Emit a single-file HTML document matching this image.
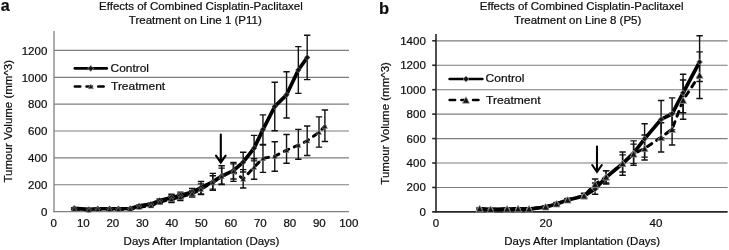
<!DOCTYPE html>
<html><head><meta charset="utf-8"><title>chart</title>
<style>
html,body{margin:0;padding:0;background:#fff;}
body{width:729px;height:250px;overflow:hidden;}
svg{display:block;will-change:transform;font-family:"Liberation Sans",sans-serif;fill:#0d0d0d;}
text{stroke:#111;stroke-width:0.22px;}
</style></head><body>
<svg width="729" height="250" viewBox="0 0 729 250">
<rect x="0" y="0" width="729" height="250" fill="#fff"/>
<line x1="54" y1="184.78" x2="349" y2="184.78" stroke="#7c7c7c" stroke-width="1.15"/>
<line x1="54" y1="157.91" x2="349" y2="157.91" stroke="#7c7c7c" stroke-width="1.15"/>
<line x1="54" y1="131.04" x2="349" y2="131.04" stroke="#7c7c7c" stroke-width="1.15"/>
<line x1="54" y1="104.17" x2="349" y2="104.17" stroke="#7c7c7c" stroke-width="1.15"/>
<line x1="54" y1="77.30" x2="349" y2="77.30" stroke="#7c7c7c" stroke-width="1.15"/>
<line x1="54" y1="50.43" x2="349" y2="50.43" stroke="#7c7c7c" stroke-width="1.15"/>
<line x1="53.4" y1="211.65" x2="349" y2="211.65" stroke="#808080" stroke-width="1.3"/>
<line x1="54" y1="31" x2="54" y2="212.25" stroke="#808080" stroke-width="1.3"/>
<path d="M74.15 207.67V209.02M70.95 207.67H77.35M70.95 209.02H77.35" stroke="#111" stroke-width="1.4" fill="none"/>
<path d="M88.90 208.75V210.09M85.70 208.75H92.10M85.70 210.09H92.10" stroke="#111" stroke-width="1.4" fill="none"/>
<path d="M97.75 208.08V209.42M94.55 208.08H100.95M94.55 209.42H100.95" stroke="#111" stroke-width="1.4" fill="none"/>
<path d="M109.55 208.08V209.42M106.35 208.08H112.75M106.35 209.42H112.75" stroke="#111" stroke-width="1.4" fill="none"/>
<path d="M118.40 208.08V209.42M115.20 208.08H121.60M115.20 209.42H121.60" stroke="#111" stroke-width="1.4" fill="none"/>
<path d="M130.20 207.81V209.15M127.00 207.81H133.40M127.00 209.15H133.40" stroke="#111" stroke-width="1.4" fill="none"/>
<path d="M139.05 205.12V206.73M135.85 205.12H142.25M135.85 206.73H142.25" stroke="#111" stroke-width="1.4" fill="none"/>
<path d="M150.85 203.10V205.25M147.65 203.10H154.05M147.65 205.25H154.05" stroke="#111" stroke-width="1.4" fill="none"/>
<path d="M159.70 198.94V202.16M156.50 198.94H162.90M156.50 202.16H162.90" stroke="#111" stroke-width="1.4" fill="none"/>
<path d="M171.50 194.24V200.96M168.30 194.24H174.70M168.30 200.96H174.70" stroke="#111" stroke-width="1.4" fill="none"/>
<path d="M180.35 192.09V198.81M177.15 192.09H183.55M177.15 198.81H183.55" stroke="#111" stroke-width="1.4" fill="none"/>
<path d="M192.15 188.33V195.45M188.95 188.33H195.35M188.95 195.45H195.35" stroke="#111" stroke-width="1.4" fill="none"/>
<path d="M201.00 181.47V193.83M197.80 181.47H204.20M197.80 193.83H204.20" stroke="#111" stroke-width="1.4" fill="none"/>
<path d="M212.80 173.41V190.34M209.60 173.41H216.00M209.60 190.34H216.00" stroke="#111" stroke-width="1.4" fill="none"/>
<path d="M221.65 165.76V184.56M218.45 165.76H224.85M218.45 184.56H224.85" stroke="#111" stroke-width="1.4" fill="none"/>
<path d="M233.45 162.53V179.06M230.25 162.53H236.65M230.25 179.06H236.65" stroke="#111" stroke-width="1.4" fill="none"/>
<path d="M243.19 152.32V171.94M239.99 152.32H246.38M239.99 171.94H246.38" stroke="#111" stroke-width="1.4" fill="none"/>
<path d="M254.10 135.39V160.92M250.90 135.39H257.30M250.90 160.92H257.30" stroke="#111" stroke-width="1.4" fill="none"/>
<path d="M262.95 114.84V144.39M259.75 114.84H266.15M259.75 144.39H266.15" stroke="#111" stroke-width="1.4" fill="none"/>
<path d="M274.75 82.32V130.69M271.55 82.32H277.95M271.55 130.69H277.95" stroke="#111" stroke-width="1.4" fill="none"/>
<path d="M286.55 71.71V117.93M283.35 71.71H289.75M283.35 117.93H289.75" stroke="#111" stroke-width="1.4" fill="none"/>
<path d="M298.35 46.59V93.34M295.15 46.59H301.55M295.15 93.34H301.55" stroke="#111" stroke-width="1.4" fill="none"/>
<path d="M307.20 35.30V79.64M304.00 35.30H310.40M304.00 79.64H310.40" stroke="#111" stroke-width="1.4" fill="none"/>
<path d="M74.15 208.34V209.69M70.95 208.34H77.35M70.95 209.69H77.35" stroke="#111" stroke-width="1.4" fill="none"/>
<path d="M88.90 209.28V210.63M85.70 209.28H92.10M85.70 210.63H92.10" stroke="#111" stroke-width="1.4" fill="none"/>
<path d="M97.75 208.61V209.96M94.55 208.61H100.95M94.55 209.96H100.95" stroke="#111" stroke-width="1.4" fill="none"/>
<path d="M109.55 208.61V209.96M106.35 208.61H112.75M106.35 209.96H112.75" stroke="#111" stroke-width="1.4" fill="none"/>
<path d="M118.40 208.61V209.96M115.20 208.61H121.60M115.20 209.96H121.60" stroke="#111" stroke-width="1.4" fill="none"/>
<path d="M130.20 208.34V209.69M127.00 208.34H133.40M127.00 209.69H133.40" stroke="#111" stroke-width="1.4" fill="none"/>
<path d="M139.05 206.33V207.94M135.85 206.33H142.25M135.85 207.94H142.25" stroke="#111" stroke-width="1.4" fill="none"/>
<path d="M150.85 204.72V206.87M147.65 204.72H154.05M147.65 206.87H154.05" stroke="#111" stroke-width="1.4" fill="none"/>
<path d="M159.70 200.55V203.78M156.50 200.55H162.90M156.50 203.78H162.90" stroke="#111" stroke-width="1.4" fill="none"/>
<path d="M171.50 195.85V202.57M168.30 195.85H174.70M168.30 202.57H174.70" stroke="#111" stroke-width="1.4" fill="none"/>
<path d="M180.35 193.83V200.55M177.15 193.83H183.55M177.15 200.55H183.55" stroke="#111" stroke-width="1.4" fill="none"/>
<path d="M192.15 190.34V197.06M188.95 190.34H195.35M188.95 197.06H195.35" stroke="#111" stroke-width="1.4" fill="none"/>
<path d="M201.00 183.89V194.64M197.80 183.89H204.20M197.80 194.64H204.20" stroke="#111" stroke-width="1.4" fill="none"/>
<path d="M212.80 175.70V189.13M209.60 175.70H216.00M209.60 189.13H216.00" stroke="#111" stroke-width="1.4" fill="none"/>
<path d="M221.65 168.17V184.16M218.45 168.17H224.85M218.45 184.16H224.85" stroke="#111" stroke-width="1.4" fill="none"/>
<path d="M233.45 163.87V181.34M230.25 163.87H236.65M230.25 181.34H236.65" stroke="#111" stroke-width="1.4" fill="none"/>
<path d="M243.19 169.65V188.06M239.99 169.65H246.38M239.99 188.06H246.38" stroke="#111" stroke-width="1.4" fill="none"/>
<path d="M254.10 158.77V179.32M250.90 158.77H257.30M250.90 179.32H257.30" stroke="#111" stroke-width="1.4" fill="none"/>
<path d="M262.95 144.93V172.34M259.75 144.93H266.15M259.75 172.34H266.15" stroke="#111" stroke-width="1.4" fill="none"/>
<path d="M274.75 141.71V171.26M271.55 141.71H277.95M271.55 171.26H277.95" stroke="#111" stroke-width="1.4" fill="none"/>
<path d="M286.55 134.45V163.20M283.35 134.45H289.75M283.35 163.20H289.75" stroke="#111" stroke-width="1.4" fill="none"/>
<path d="M298.35 129.35V159.31M295.15 129.35H301.55M295.15 159.31H301.55" stroke="#111" stroke-width="1.4" fill="none"/>
<path d="M307.20 125.99V155.54M304.00 125.99H310.40M304.00 155.54H310.40" stroke="#111" stroke-width="1.4" fill="none"/>
<path d="M319.00 116.85V147.08M315.80 116.85H322.20M315.80 147.08H322.20" stroke="#111" stroke-width="1.4" fill="none"/>
<path d="M324.90 110.00V141.57M321.70 110.00H328.10M321.70 141.57H328.10" stroke="#111" stroke-width="1.4" fill="none"/>
<polyline points="74.15,209.02 88.90,209.96 97.75,209.28 109.55,209.28 118.40,209.28 130.20,209.02 139.05,207.14 150.85,205.79 159.70,202.16 171.50,199.21 180.35,197.19 192.15,193.70 201.00,189.27 212.80,182.41 221.65,176.37 233.45,171.26 243.19,179.06 254.10,167.10 262.95,158.37 274.75,156.22 286.55,150.17 298.35,145.20 307.20,140.77 319.00,132.30 324.90,126.12" fill="none" stroke="#000" stroke-width="2.95" stroke-dasharray="5.0 6.0" stroke-linecap="round" stroke-linejoin="round"/>
<polyline points="74.15,208.34 88.90,209.42 97.75,208.75 109.55,208.75 118.40,208.75 130.20,208.48 139.05,205.93 150.85,204.18 159.70,200.55 171.50,197.60 180.35,195.45 192.15,192.09 201.00,187.65 212.80,181.88 221.65,176.10 233.45,170.59 243.19,162.13 254.10,148.16 262.95,129.62 274.75,106.51 286.55,94.82 298.35,69.96 307.20,57.47" fill="none" stroke="#000" stroke-width="3.7" stroke-linejoin="round" stroke-linecap="round"/>
<path d="M74.15 205.34L77.05 208.34L74.15 211.34L71.25 208.34Z" fill="#141414" stroke="#a0a0a0" stroke-width="0.45"/>
<path d="M88.90 206.42L91.80 209.42L88.90 212.42L86.00 209.42Z" fill="#141414" stroke="#a0a0a0" stroke-width="0.45"/>
<path d="M97.75 205.75L100.65 208.75L97.75 211.75L94.85 208.75Z" fill="#141414" stroke="#a0a0a0" stroke-width="0.45"/>
<path d="M109.55 205.75L112.45 208.75L109.55 211.75L106.65 208.75Z" fill="#141414" stroke="#a0a0a0" stroke-width="0.45"/>
<path d="M118.40 205.75L121.30 208.75L118.40 211.75L115.50 208.75Z" fill="#141414" stroke="#a0a0a0" stroke-width="0.45"/>
<path d="M130.20 205.48L133.10 208.48L130.20 211.48L127.30 208.48Z" fill="#141414" stroke="#a0a0a0" stroke-width="0.45"/>
<path d="M139.05 202.93L141.95 205.93L139.05 208.93L136.15 205.93Z" fill="#141414" stroke="#a0a0a0" stroke-width="0.45"/>
<path d="M150.85 201.18L153.75 204.18L150.85 207.18L147.95 204.18Z" fill="#141414" stroke="#a0a0a0" stroke-width="0.45"/>
<path d="M159.70 197.55L162.60 200.55L159.70 203.55L156.80 200.55Z" fill="#141414" stroke="#a0a0a0" stroke-width="0.45"/>
<path d="M171.50 194.60L174.40 197.60L171.50 200.60L168.60 197.60Z" fill="#141414" stroke="#a0a0a0" stroke-width="0.45"/>
<path d="M180.35 192.45L183.25 195.45L180.35 198.45L177.45 195.45Z" fill="#141414" stroke="#a0a0a0" stroke-width="0.45"/>
<path d="M192.15 189.09L195.05 192.09L192.15 195.09L189.25 192.09Z" fill="#141414" stroke="#a0a0a0" stroke-width="0.45"/>
<path d="M201.00 184.65L203.90 187.65L201.00 190.65L198.10 187.65Z" fill="#141414" stroke="#a0a0a0" stroke-width="0.45"/>
<path d="M212.80 178.88L215.70 181.88L212.80 184.88L209.90 181.88Z" fill="#141414" stroke="#a0a0a0" stroke-width="0.45"/>
<path d="M221.65 173.10L224.55 176.10L221.65 179.10L218.75 176.10Z" fill="#141414" stroke="#a0a0a0" stroke-width="0.45"/>
<path d="M233.45 167.59L236.35 170.59L233.45 173.59L230.55 170.59Z" fill="#141414" stroke="#a0a0a0" stroke-width="0.45"/>
<path d="M243.19 159.13L246.09 162.13L243.19 165.13L240.28 162.13Z" fill="#141414" stroke="#a0a0a0" stroke-width="0.45"/>
<path d="M254.10 145.16L257.00 148.16L254.10 151.16L251.20 148.16Z" fill="#141414" stroke="#a0a0a0" stroke-width="0.45"/>
<path d="M262.95 126.62L265.85 129.62L262.95 132.62L260.05 129.62Z" fill="#141414" stroke="#a0a0a0" stroke-width="0.45"/>
<path d="M274.75 103.51L277.65 106.51L274.75 109.51L271.85 106.51Z" fill="#141414" stroke="#a0a0a0" stroke-width="0.45"/>
<path d="M286.55 91.82L289.45 94.82L286.55 97.82L283.65 94.82Z" fill="#141414" stroke="#a0a0a0" stroke-width="0.45"/>
<path d="M298.35 66.96L301.25 69.96L298.35 72.96L295.45 69.96Z" fill="#141414" stroke="#a0a0a0" stroke-width="0.45"/>
<path d="M307.20 54.47L310.10 57.47L307.20 60.47L304.30 57.47Z" fill="#141414" stroke="#a0a0a0" stroke-width="0.45"/>
<path d="M74.15 206.72L76.85 211.32H71.45Z" fill="#141414" stroke="#a0a0a0" stroke-width="0.45"/>
<path d="M88.90 207.66L91.60 212.26H86.20Z" fill="#141414" stroke="#a0a0a0" stroke-width="0.45"/>
<path d="M97.75 206.98L100.45 211.58H95.05Z" fill="#141414" stroke="#a0a0a0" stroke-width="0.45"/>
<path d="M109.55 206.98L112.25 211.58H106.85Z" fill="#141414" stroke="#a0a0a0" stroke-width="0.45"/>
<path d="M118.40 206.98L121.10 211.58H115.70Z" fill="#141414" stroke="#a0a0a0" stroke-width="0.45"/>
<path d="M130.20 206.72L132.90 211.32H127.50Z" fill="#141414" stroke="#a0a0a0" stroke-width="0.45"/>
<path d="M139.05 204.84L141.75 209.44H136.35Z" fill="#141414" stroke="#a0a0a0" stroke-width="0.45"/>
<path d="M150.85 203.49L153.55 208.09H148.15Z" fill="#141414" stroke="#a0a0a0" stroke-width="0.45"/>
<path d="M159.70 199.86L162.40 204.46H157.00Z" fill="#141414" stroke="#a0a0a0" stroke-width="0.45"/>
<path d="M171.50 196.91L174.20 201.51H168.80Z" fill="#141414" stroke="#a0a0a0" stroke-width="0.45"/>
<path d="M180.35 194.89L183.05 199.49H177.65Z" fill="#141414" stroke="#a0a0a0" stroke-width="0.45"/>
<path d="M192.15 191.40L194.85 196.00H189.45Z" fill="#141414" stroke="#a0a0a0" stroke-width="0.45"/>
<path d="M201.00 186.97L203.70 191.57H198.30Z" fill="#141414" stroke="#a0a0a0" stroke-width="0.45"/>
<path d="M212.80 180.11L215.50 184.71H210.10Z" fill="#141414" stroke="#a0a0a0" stroke-width="0.45"/>
<path d="M221.65 174.07L224.35 178.67H218.95Z" fill="#141414" stroke="#a0a0a0" stroke-width="0.45"/>
<path d="M233.45 168.96L236.15 173.56H230.75Z" fill="#141414" stroke="#a0a0a0" stroke-width="0.45"/>
<path d="M243.19 176.76L245.88 181.36H240.49Z" fill="#141414" stroke="#a0a0a0" stroke-width="0.45"/>
<path d="M254.10 164.80L256.80 169.40H251.40Z" fill="#141414" stroke="#a0a0a0" stroke-width="0.45"/>
<path d="M262.95 156.07L265.65 160.67H260.25Z" fill="#141414" stroke="#a0a0a0" stroke-width="0.45"/>
<path d="M274.75 153.92L277.45 158.52H272.05Z" fill="#141414" stroke="#a0a0a0" stroke-width="0.45"/>
<path d="M286.55 147.87L289.25 152.47H283.85Z" fill="#141414" stroke="#a0a0a0" stroke-width="0.45"/>
<path d="M298.35 142.90L301.05 147.50H295.65Z" fill="#141414" stroke="#a0a0a0" stroke-width="0.45"/>
<path d="M307.20 138.47L309.90 143.07H304.50Z" fill="#141414" stroke="#a0a0a0" stroke-width="0.45"/>
<path d="M319.00 130.00L321.70 134.60H316.30Z" fill="#141414" stroke="#a0a0a0" stroke-width="0.45"/>
<path d="M324.90 123.82L327.60 128.42H322.20Z" fill="#141414" stroke="#a0a0a0" stroke-width="0.45"/>
<line x1="436" y1="187.46" x2="727.6" y2="187.46" stroke="#7c7c7c" stroke-width="1.15"/>
<line x1="436" y1="163.02" x2="727.6" y2="163.02" stroke="#7c7c7c" stroke-width="1.15"/>
<line x1="436" y1="138.58" x2="727.6" y2="138.58" stroke="#7c7c7c" stroke-width="1.15"/>
<line x1="436" y1="114.14" x2="727.6" y2="114.14" stroke="#7c7c7c" stroke-width="1.15"/>
<line x1="436" y1="89.70" x2="727.6" y2="89.70" stroke="#7c7c7c" stroke-width="1.15"/>
<line x1="436" y1="65.26" x2="727.6" y2="65.26" stroke="#7c7c7c" stroke-width="1.15"/>
<line x1="436" y1="40.82" x2="727.6" y2="40.82" stroke="#7c7c7c" stroke-width="1.15"/>
<line x1="432.2" y1="211.9" x2="727.6" y2="211.9" stroke="#262626" stroke-width="1.6"/>
<line x1="436" y1="34" x2="436" y2="212.5" stroke="#262626" stroke-width="1.6"/>
<line x1="432.2" y1="187.46" x2="436" y2="187.46" stroke="#262626" stroke-width="1.6"/>
<line x1="432.2" y1="163.02" x2="436" y2="163.02" stroke="#262626" stroke-width="1.6"/>
<line x1="432.2" y1="138.58" x2="436" y2="138.58" stroke="#262626" stroke-width="1.6"/>
<line x1="432.2" y1="114.14" x2="436" y2="114.14" stroke="#262626" stroke-width="1.6"/>
<line x1="432.2" y1="89.70" x2="436" y2="89.70" stroke="#262626" stroke-width="1.6"/>
<line x1="432.2" y1="65.26" x2="436" y2="65.26" stroke="#262626" stroke-width="1.6"/>
<line x1="432.2" y1="40.82" x2="436" y2="40.82" stroke="#262626" stroke-width="1.6"/>
<path d="M479.60 208.25V209.47M476.40 208.25H482.80M476.40 209.47H482.80" stroke="#111" stroke-width="1.4" fill="none"/>
<path d="M490.60 208.86V210.08M487.40 208.86H493.80M487.40 210.08H493.80" stroke="#111" stroke-width="1.4" fill="none"/>
<path d="M507.10 208.49V209.71M503.90 208.49H510.30M503.90 209.71H510.30" stroke="#111" stroke-width="1.4" fill="none"/>
<path d="M518.10 208.25V209.47M514.90 208.25H521.30M514.90 209.47H521.30" stroke="#111" stroke-width="1.4" fill="none"/>
<path d="M529.10 208.49V209.71M525.90 208.49H532.30M525.90 209.71H532.30" stroke="#111" stroke-width="1.4" fill="none"/>
<path d="M545.60 206.05V208.00M542.40 206.05H548.80M542.40 208.00H548.80" stroke="#111" stroke-width="1.4" fill="none"/>
<path d="M556.60 202.75V205.19M553.40 202.75H559.80M553.40 205.19H559.80" stroke="#111" stroke-width="1.4" fill="none"/>
<path d="M567.60 198.59V201.52M564.40 198.59H570.80M564.40 201.52H570.80" stroke="#111" stroke-width="1.4" fill="none"/>
<path d="M584.10 193.58V198.47M580.90 193.58H587.30M580.90 198.47H587.30" stroke="#111" stroke-width="1.4" fill="none"/>
<path d="M595.10 182.95V194.19M591.90 182.95H598.30M591.90 194.19H598.30" stroke="#111" stroke-width="1.4" fill="none"/>
<path d="M606.10 170.61V184.05M602.90 170.61H609.30M602.90 184.05H609.30" stroke="#111" stroke-width="1.4" fill="none"/>
<path d="M622.60 152.03V175.25M619.40 152.03H625.80M619.40 175.25H625.80" stroke="#111" stroke-width="1.4" fill="none"/>
<path d="M633.60 140.91V165.35M630.40 140.91H636.80M630.40 165.35H636.80" stroke="#111" stroke-width="1.4" fill="none"/>
<path d="M644.60 123.80V157.17M641.40 123.80H647.80M641.40 157.17H647.80" stroke="#111" stroke-width="1.4" fill="none"/>
<path d="M661.10 100.46V137.74M657.90 100.46H664.30M657.90 137.74H664.30" stroke="#111" stroke-width="1.4" fill="none"/>
<path d="M672.10 97.90V129.67M668.90 97.90H675.30M668.90 129.67H675.30" stroke="#111" stroke-width="1.4" fill="none"/>
<path d="M683.10 74.31V119.28M679.90 74.31H686.30M679.90 119.28H686.30" stroke="#111" stroke-width="1.4" fill="none"/>
<path d="M699.60 35.70V81.52M696.40 35.70H702.80M696.40 81.52H702.80" stroke="#111" stroke-width="1.4" fill="none"/>
<path d="M479.60 208.00V209.22M476.40 208.00H482.80M476.40 209.22H482.80" stroke="#111" stroke-width="1.4" fill="none"/>
<path d="M490.60 208.61V209.83M487.40 208.61H493.80M487.40 209.83H493.80" stroke="#111" stroke-width="1.4" fill="none"/>
<path d="M507.10 208.25V209.47M503.90 208.25H510.30M503.90 209.47H510.30" stroke="#111" stroke-width="1.4" fill="none"/>
<path d="M518.10 208.00V209.22M514.90 208.00H521.30M514.90 209.22H521.30" stroke="#111" stroke-width="1.4" fill="none"/>
<path d="M529.10 208.25V209.47M525.90 208.25H532.30M525.90 209.47H532.30" stroke="#111" stroke-width="1.4" fill="none"/>
<path d="M545.60 205.80V207.76M542.40 205.80H548.80M542.40 207.76H548.80" stroke="#111" stroke-width="1.4" fill="none"/>
<path d="M556.60 202.50V204.95M553.40 202.50H559.80M553.40 204.95H559.80" stroke="#111" stroke-width="1.4" fill="none"/>
<path d="M567.60 198.35V201.28M564.40 198.35H570.80M564.40 201.28H570.80" stroke="#111" stroke-width="1.4" fill="none"/>
<path d="M584.10 193.21V198.10M580.90 193.21H587.30M580.90 198.10H587.30" stroke="#111" stroke-width="1.4" fill="none"/>
<path d="M595.10 179.04V189.18M591.90 179.04H598.30M591.90 189.18H598.30" stroke="#111" stroke-width="1.4" fill="none"/>
<path d="M606.10 170.73V182.95M602.90 170.73H609.30M602.90 182.95H609.30" stroke="#111" stroke-width="1.4" fill="none"/>
<path d="M622.60 154.84V171.95M619.40 154.84H625.80M619.40 171.95H625.80" stroke="#111" stroke-width="1.4" fill="none"/>
<path d="M633.60 144.09V163.64M630.40 144.09H636.80M630.40 163.64H636.80" stroke="#111" stroke-width="1.4" fill="none"/>
<path d="M644.60 134.93V159.98M641.40 134.93H647.80M641.40 159.98H647.80" stroke="#111" stroke-width="1.4" fill="none"/>
<path d="M661.10 122.71V152.03M657.90 122.71H664.30M657.90 152.03H664.30" stroke="#111" stroke-width="1.4" fill="none"/>
<path d="M672.10 113.30V145.07M668.90 113.30H675.30M668.90 145.07H675.30" stroke="#111" stroke-width="1.4" fill="none"/>
<path d="M683.10 80.06V112.81M679.90 80.06H686.30M679.90 112.81H686.30" stroke="#111" stroke-width="1.4" fill="none"/>
<path d="M699.60 51.83V98.51M696.40 51.83H702.80M696.40 98.51H702.80" stroke="#111" stroke-width="1.4" fill="none"/>
<polyline points="479.60,208.61 490.60,209.22 507.10,208.86 518.10,208.61 529.10,208.86 545.60,206.78 556.60,203.72 567.60,199.81 584.10,195.66 595.10,184.29 606.10,176.84 622.60,163.40 633.60,153.87 644.60,148.37 661.10,137.37 672.10,129.18 683.10,100.10 699.60,75.05" fill="none" stroke="#000" stroke-width="2.95" stroke-dasharray="5.0 6.0" stroke-linecap="round" stroke-linejoin="round"/>
<polyline points="479.60,208.86 490.60,209.47 507.10,209.10 518.10,208.86 529.10,209.10 545.60,207.02 556.60,203.97 567.60,200.06 584.10,196.03 595.10,189.06 606.10,177.33 622.60,163.64 633.60,153.13 644.60,138.84 661.10,119.41 672.10,113.78 683.10,92.77 699.60,61.97" fill="none" stroke="#000" stroke-width="3.7" stroke-linejoin="round" stroke-linecap="round"/>
<path d="M479.60 205.86L482.50 208.86L479.60 211.86L476.70 208.86Z" fill="#141414" stroke="#a0a0a0" stroke-width="0.75"/>
<path d="M490.60 206.47L493.50 209.47L490.60 212.47L487.70 209.47Z" fill="#141414" stroke="#a0a0a0" stroke-width="0.75"/>
<path d="M507.10 206.10L510.00 209.10L507.10 212.10L504.20 209.10Z" fill="#141414" stroke="#a0a0a0" stroke-width="0.75"/>
<path d="M518.10 205.86L521.00 208.86L518.10 211.86L515.20 208.86Z" fill="#141414" stroke="#a0a0a0" stroke-width="0.75"/>
<path d="M529.10 206.10L532.00 209.10L529.10 212.10L526.20 209.10Z" fill="#141414" stroke="#a0a0a0" stroke-width="0.75"/>
<path d="M545.60 204.02L548.50 207.02L545.60 210.02L542.70 207.02Z" fill="#141414" stroke="#a0a0a0" stroke-width="0.75"/>
<path d="M556.60 200.97L559.50 203.97L556.60 206.97L553.70 203.97Z" fill="#141414" stroke="#a0a0a0" stroke-width="0.75"/>
<path d="M567.60 197.06L570.50 200.06L567.60 203.06L564.70 200.06Z" fill="#141414" stroke="#a0a0a0" stroke-width="0.75"/>
<path d="M584.10 193.03L587.00 196.03L584.10 199.03L581.20 196.03Z" fill="#141414" stroke="#a0a0a0" stroke-width="0.75"/>
<path d="M595.10 186.06L598.00 189.06L595.10 192.06L592.20 189.06Z" fill="#141414" stroke="#a0a0a0" stroke-width="0.75"/>
<path d="M606.10 174.33L609.00 177.33L606.10 180.33L603.20 177.33Z" fill="#141414" stroke="#a0a0a0" stroke-width="0.75"/>
<path d="M622.60 160.64L625.50 163.64L622.60 166.64L619.70 163.64Z" fill="#141414" stroke="#a0a0a0" stroke-width="0.75"/>
<path d="M633.60 150.13L636.50 153.13L633.60 156.13L630.70 153.13Z" fill="#141414" stroke="#a0a0a0" stroke-width="0.75"/>
<path d="M644.60 135.84L647.50 138.84L644.60 141.84L641.70 138.84Z" fill="#141414" stroke="#a0a0a0" stroke-width="0.75"/>
<path d="M661.10 116.41L664.00 119.41L661.10 122.41L658.20 119.41Z" fill="#141414" stroke="#a0a0a0" stroke-width="0.75"/>
<path d="M672.10 110.78L675.00 113.78L672.10 116.78L669.20 113.78Z" fill="#141414" stroke="#a0a0a0" stroke-width="0.75"/>
<path d="M683.10 89.77L686.00 92.77L683.10 95.77L680.20 92.77Z" fill="#141414" stroke="#a0a0a0" stroke-width="0.75"/>
<path d="M699.60 58.97L702.50 61.97L699.60 64.97L696.70 61.97Z" fill="#141414" stroke="#a0a0a0" stroke-width="0.75"/>
<path d="M479.60 205.31L483.10 211.91H476.10Z" fill="#141414" stroke="#a0a0a0" stroke-width="0.75"/>
<path d="M490.60 205.92L494.10 212.52H487.10Z" fill="#141414" stroke="#a0a0a0" stroke-width="0.75"/>
<path d="M507.10 205.56L510.60 212.16H503.60Z" fill="#141414" stroke="#a0a0a0" stroke-width="0.75"/>
<path d="M518.10 205.31L521.60 211.91H514.60Z" fill="#141414" stroke="#a0a0a0" stroke-width="0.75"/>
<path d="M529.10 205.56L532.60 212.16H525.60Z" fill="#141414" stroke="#a0a0a0" stroke-width="0.75"/>
<path d="M545.60 203.48L549.10 210.08H542.10Z" fill="#141414" stroke="#a0a0a0" stroke-width="0.75"/>
<path d="M556.60 200.42L560.10 207.02H553.10Z" fill="#141414" stroke="#a0a0a0" stroke-width="0.75"/>
<path d="M567.60 196.51L571.10 203.11H564.10Z" fill="#141414" stroke="#a0a0a0" stroke-width="0.75"/>
<path d="M584.10 192.36L587.60 198.96H580.60Z" fill="#141414" stroke="#a0a0a0" stroke-width="0.75"/>
<path d="M595.10 180.99L598.60 187.59H591.60Z" fill="#141414" stroke="#a0a0a0" stroke-width="0.75"/>
<path d="M606.10 173.54L609.60 180.14H602.60Z" fill="#141414" stroke="#a0a0a0" stroke-width="0.75"/>
<path d="M622.60 160.10L626.10 166.70H619.10Z" fill="#141414" stroke="#a0a0a0" stroke-width="0.75"/>
<path d="M633.60 150.57L637.10 157.17H630.10Z" fill="#141414" stroke="#a0a0a0" stroke-width="0.75"/>
<path d="M644.60 145.07L648.10 151.67H641.10Z" fill="#141414" stroke="#a0a0a0" stroke-width="0.75"/>
<path d="M661.10 134.07L664.60 140.67H657.60Z" fill="#141414" stroke="#a0a0a0" stroke-width="0.75"/>
<path d="M672.10 125.88L675.60 132.48H668.60Z" fill="#141414" stroke="#a0a0a0" stroke-width="0.75"/>
<path d="M683.10 96.80L686.60 103.40H679.60Z" fill="#141414" stroke="#a0a0a0" stroke-width="0.75"/>
<path d="M699.60 71.75L703.10 78.35H696.10Z" fill="#141414" stroke="#a0a0a0" stroke-width="0.75"/>
<text x="0.8" y="10.7" font-size="16" text-anchor="start" font-weight="bold">a</text>
<text x="379.0" y="13.8" font-size="16.5" text-anchor="start" font-weight="bold">b</text>
<text x="200.9" y="9.6" font-size="11.5" text-anchor="middle" font-weight="normal">Effects of Combined Cisplatin-Paclitaxel</text>
<text x="195.3" y="24.3" font-size="11.5" text-anchor="middle" font-weight="normal">Treatment on Line 1 (P11)</text>
<text x="581.6" y="9.6" font-size="11.5" text-anchor="middle" font-weight="normal">Effects of Combined Cisplatin-Paclitaxel</text>
<text x="577.6" y="24.3" font-size="11.5" text-anchor="middle" font-weight="normal">Treatment on Line 8 (P5)</text>
<text x="201.5" y="245.0" font-size="11.5" text-anchor="middle" font-weight="normal" textLength="155.8" lengthAdjust="spacingAndGlyphs">Days After Implantation (Days)</text>
<text x="582.2" y="245.0" font-size="11.5" text-anchor="middle" font-weight="normal" textLength="155.8" lengthAdjust="spacingAndGlyphs">Days After Implantation (Days)</text>
<text transform="translate(11.5,121.2) rotate(-90)" font-size="11.5" text-anchor="middle">Tumour Volume (mm^3)</text>
<text transform="translate(388.7,123.4) rotate(-90)" font-size="11.5" text-anchor="middle">Tumour Volume (mm^3)</text>
<text x="47.3" y="215.9" font-size="11.5" text-anchor="end" font-weight="normal">0</text>
<text x="47.3" y="189.03" font-size="11.5" text-anchor="end" font-weight="normal">200</text>
<text x="47.3" y="162.16" font-size="11.5" text-anchor="end" font-weight="normal">400</text>
<text x="47.3" y="135.29" font-size="11.5" text-anchor="end" font-weight="normal">600</text>
<text x="47.3" y="108.42" font-size="11.5" text-anchor="end" font-weight="normal">800</text>
<text x="47.3" y="81.55" font-size="11.5" text-anchor="end" font-weight="normal">1000</text>
<text x="47.3" y="54.68" font-size="11.5" text-anchor="end" font-weight="normal">1200</text>
<text x="53.8" y="227.0" font-size="11.5" text-anchor="middle" font-weight="normal">0</text>
<text x="83.3" y="227.0" font-size="11.5" text-anchor="middle" font-weight="normal">10</text>
<text x="112.8" y="227.0" font-size="11.5" text-anchor="middle" font-weight="normal">20</text>
<text x="142.3" y="227.0" font-size="11.5" text-anchor="middle" font-weight="normal">30</text>
<text x="171.8" y="227.0" font-size="11.5" text-anchor="middle" font-weight="normal">40</text>
<text x="201.3" y="227.0" font-size="11.5" text-anchor="middle" font-weight="normal">50</text>
<text x="230.8" y="227.0" font-size="11.5" text-anchor="middle" font-weight="normal">60</text>
<text x="260.3" y="227.0" font-size="11.5" text-anchor="middle" font-weight="normal">70</text>
<text x="289.8" y="227.0" font-size="11.5" text-anchor="middle" font-weight="normal">80</text>
<text x="319.3" y="227.0" font-size="11.5" text-anchor="middle" font-weight="normal">90</text>
<text x="348.8" y="227.0" font-size="11.5" text-anchor="middle" font-weight="normal">100</text>
<text x="425.8" y="215.9" font-size="11.5" text-anchor="end" font-weight="normal">0</text>
<text x="425.8" y="191.46" font-size="11.5" text-anchor="end" font-weight="normal">200</text>
<text x="425.8" y="167.02" font-size="11.5" text-anchor="end" font-weight="normal">400</text>
<text x="425.8" y="142.58" font-size="11.5" text-anchor="end" font-weight="normal">600</text>
<text x="425.8" y="118.14" font-size="11.5" text-anchor="end" font-weight="normal">800</text>
<text x="425.8" y="93.7" font-size="11.5" text-anchor="end" font-weight="normal">1000</text>
<text x="425.8" y="69.26" font-size="11.5" text-anchor="end" font-weight="normal">1200</text>
<text x="425.8" y="44.82" font-size="11.5" text-anchor="end" font-weight="normal">1400</text>
<text x="435.9" y="227.0" font-size="11.5" text-anchor="middle" font-weight="normal">0</text>
<text x="545.9" y="227.0" font-size="11.5" text-anchor="middle" font-weight="normal">20</text>
<text x="655.9" y="227.0" font-size="11.5" text-anchor="middle" font-weight="normal">40</text>
<line x1="74.8" y1="68.4" x2="106.8" y2="68.4" stroke="#000" stroke-width="2.6" stroke-linecap="round"/>
<path d="M90.80 65.40L93.70 68.40L90.80 71.40L87.90 68.40Z" fill="#141414" stroke="#a0a0a0" stroke-width="0.7"/>
<line x1="74.8" y1="86.4" x2="108" y2="86.4" stroke="#000" stroke-width="2.5" stroke-dasharray="5.5 6.2" stroke-linecap="round"/>
<path d="M90.80 84.10L93.50 88.70H88.10Z" fill="#141414" stroke="#a0a0a0" stroke-width="0.7"/>
<text x="110.6" y="71.7" font-size="11" text-anchor="start" font-weight="normal" textLength="38.4" lengthAdjust="spacingAndGlyphs">Control</text>
<text x="111.0" y="89.7" font-size="11" text-anchor="start" font-weight="normal" textLength="54.2" lengthAdjust="spacingAndGlyphs">Treatment</text>
<line x1="449.59999999999997" y1="79" x2="482.40000000000003" y2="79" stroke="#000" stroke-width="2.6" stroke-linecap="round"/>
<path d="M466.00 76.00L468.90 79.00L466.00 82.00L463.10 79.00Z" fill="#141414" stroke="#a0a0a0" stroke-width="0.7"/>
<line x1="449.59999999999997" y1="100" x2="483.6" y2="100" stroke="#000" stroke-width="2.5" stroke-dasharray="5.5 6.2" stroke-linecap="round"/>
<path d="M466.00 96.70L469.50 103.30H462.50Z" fill="#141414" stroke="#a0a0a0" stroke-width="0.7"/>
<text x="485.6" y="82.1" font-size="11" text-anchor="start" font-weight="normal" textLength="38.8" lengthAdjust="spacingAndGlyphs">Control</text>
<text x="486.0" y="103.5" font-size="11" text-anchor="start" font-weight="normal" textLength="54.6" lengthAdjust="spacingAndGlyphs">Treatment</text>
<path d="M220.8 134.5V162.6M216.0 155.6L220.8 162.6L225.60000000000002 155.6" stroke="#000" stroke-width="2.1" fill="none" stroke-linecap="round" stroke-linejoin="miter"/>
<path d="M597.0 146.5V172M592.2 165L597.0 172L601.8 165" stroke="#000" stroke-width="2.1" fill="none" stroke-linecap="round" stroke-linejoin="miter"/>
</svg>
</body></html>
